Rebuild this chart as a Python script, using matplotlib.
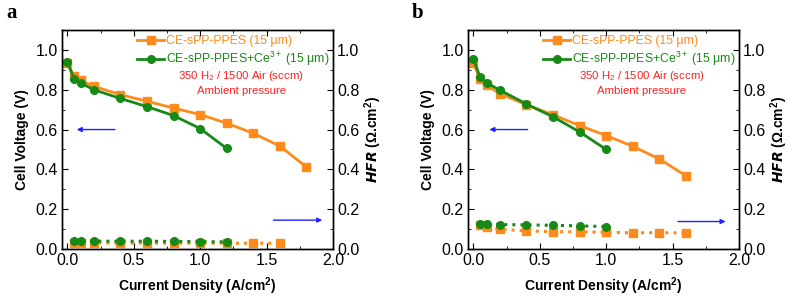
import numpy as np
import matplotlib
matplotlib.use("Agg")
import matplotlib.pyplot as plt
from matplotlib.ticker import MultipleLocator, FormatStrFormatter

plt.rcParams['font.family'] = ['Liberation Sans', 'DejaVu Sans']
plt.rcParams['mathtext.fontset'] = 'custom'
plt.rcParams['mathtext.rm'] = 'Liberation Sans'
plt.rcParams['mathtext.it'] = 'Liberation Sans:italic'
plt.rcParams['mathtext.bf'] = 'Liberation Sans:bold'

ORANGE = "#FF8A1C"
GREEN = "#168A16"

# panel a
a_j_or = [0.0, 0.05, 0.1, 0.2, 0.4, 0.6, 0.8, 1.0, 1.2, 1.4, 1.6, 1.8]
a_v_or = [0.935, 0.868, 0.847, 0.817, 0.775, 0.742, 0.708, 0.675, 0.632, 0.581, 0.517, 0.412]
a_j_gr = [0.0, 0.05, 0.1, 0.2, 0.4, 0.6, 0.8, 1.0, 1.2]
a_v_gr = [0.94, 0.856, 0.834, 0.80, 0.756, 0.715, 0.67, 0.605, 0.505]
a_hj_or = [0.05, 0.1, 0.2, 0.4, 0.6, 0.8, 1.0, 1.2, 1.4, 1.6]
a_hfr_or = [0.030, 0.030, 0.030, 0.030, 0.030, 0.029, 0.029, 0.029, 0.029, 0.029]
a_hj_gr = [0.05, 0.1, 0.2, 0.4, 0.6, 0.8, 1.0, 1.2]
a_hfr_gr = [0.039, 0.039, 0.039, 0.039, 0.039, 0.038, 0.037, 0.036]

# panel b
b_j_or = [0.0, 0.05, 0.1, 0.2, 0.4, 0.6, 0.8, 1.0, 1.2, 1.4, 1.6]
b_v_or = [0.936, 0.852, 0.822, 0.781, 0.724, 0.674, 0.62, 0.57, 0.516, 0.452, 0.368]
b_j_gr = [0.0, 0.05, 0.1, 0.2, 0.4, 0.6, 0.8, 1.0]
b_v_gr = [0.953, 0.866, 0.835, 0.798, 0.728, 0.664, 0.588, 0.50]
b_hj_or = [0.05, 0.1, 0.2, 0.4, 0.6, 0.8, 1.0, 1.2, 1.4, 1.6]
b_hfr_or = [0.123, 0.108, 0.099, 0.091, 0.087, 0.086, 0.084, 0.081, 0.082, 0.081]
b_hj_gr = [0.05, 0.1, 0.2, 0.4, 0.6, 0.8, 1.0]
b_hfr_gr = [0.124, 0.124, 0.123, 0.121, 0.119, 0.116, 0.113]

labels = ["CE-sPP-PPES (15 \u03bcm)", "CE-sPP-PPES+Ce$^{3+}$ (15 \u03bcm)"]

panels = [
    ("a", 62, a_j_or, a_v_or, a_j_gr, a_v_gr, a_hj_or, a_hfr_or, a_hj_gr, a_hfr_gr,
     (0.38, 0.05), (1.53, 1.94), 0.145, 1.31),
    ("b", 468, b_j_or, b_v_or, b_j_gr, b_v_gr, b_hj_or, b_hfr_or, b_hj_gr, b_hfr_gr,
     (0.43, 0.10), (1.52, 1.92), 0.138, 1.27),
]

W, H = 789, 297
fig = plt.figure(figsize=(W / 100, H / 100), dpi=100)

for (tag, left, jo, vo, jg, vg, hjo, ho, hjg, hg, larr, rarr, ry, tx) in panels:
    ax = fig.add_axes([left / W, 48 / H, 271 / W, 219 / H])
    ax2 = ax.twinx()

    ax.plot(jo, vo, '-s', color=ORANGE, lw=2.0, ms=5.5, label=labels[0])
    ax.plot(jg, vg, '-o', color=GREEN, lw=2.0, ms=5.5, label=labels[1])
    ax.plot(hjo, ho, ':s', color=ORANGE, lw=2.2, ms=5.5)
    ax.plot(hjg, hg, ':o', color=GREEN, lw=2.2, ms=5.5)

    ax.set_xlim(-0.04, 2.0)
    ax.set_ylim(0, 1.1)
    ax2.set_ylim(0, 1.1)
    ax.xaxis.set_major_locator(MultipleLocator(0.5))
    ax.xaxis.set_minor_locator(MultipleLocator(0.25))
    for a in (ax, ax2):
        a.yaxis.set_major_locator(MultipleLocator(0.2))
        a.yaxis.set_minor_locator(MultipleLocator(0.1))
        a.yaxis.set_major_formatter(FormatStrFormatter('%.1f'))
        a.tick_params(which='both', direction='in', labelsize=11.5, pad=3)
        a.tick_params(which='major', length=4)
        a.tick_params(which='minor', length=2)
        for s in a.spines.values():
            s.set_linewidth(1.0)
    ax.xaxis.set_major_formatter(FormatStrFormatter('%.1f'))
    ax.tick_params(which='both', top=True)

    ax.set_xlabel("Current Density (A/cm$^{\\mathbf{2}}$)", fontsize=10, fontweight='bold', labelpad=5)
    ax.set_ylabel("Cell Voltage (V)", fontsize=10, fontweight='bold', labelpad=5)
    ax2.set_ylabel("$\\boldsymbol{HFR}$ ($\\mathbf{\\Omega}$.cm$^{\\mathbf{2}}$)", fontsize=10,
                   fontweight='bold', labelpad=2)

    ax.legend(loc='upper left', bbox_to_anchor=(0.25, 1.01), frameon=False,
              fontsize=8.8, handlelength=2.2, handletextpad=0.2, labelspacing=0.22,
              borderaxespad=0.2, labelcolor='linecolor')

    ax.text(tx, 0.869, "350 H$_2$ / 1500 Air (sccm)", color="#FF2020", fontsize=8.2,
            ha='center', va='center')
    ax.text(tx, 0.793, "Ambient pressure", color="#FF2020", fontsize=8.2,
            ha='center', va='center')

    ax.annotate("", xy=(larr[1], 0.6), xytext=(larr[0], 0.6),
                arrowprops=dict(arrowstyle='-|>', color='#2020FF', lw=1.0, mutation_scale=7))
    ax.annotate("", xy=(rarr[1], ry), xytext=(rarr[0], ry),
                arrowprops=dict(arrowstyle='-|>', color='#2020FF', lw=1.0, mutation_scale=7))

    fig.text((left - 56) / W, 1 - 13 / H, tag, fontsize=15, fontweight='bold',
             family='Liberation Serif', va='center')

fig.savefig("out.png", dpi=100)
